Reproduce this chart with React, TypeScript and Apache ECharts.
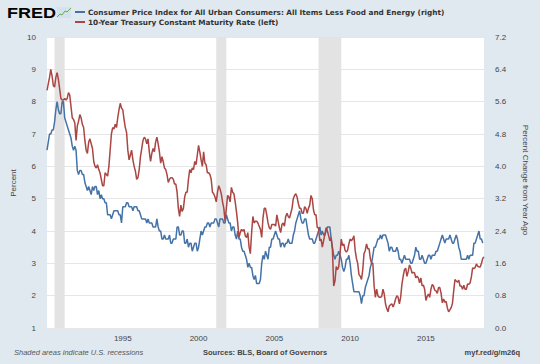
import React, { useEffect, useRef } from "react";
import * as echarts from "echarts";

const startYear = 1990;

// 10-Year Treasury Constant Maturity Rate, monthly, Jan 1990 - Nov 2018 (percent, left axis)
const treasury10y = [
  8.35, 8.55, 8.75, 9.0, 8.8, 8.5, 8.45, 8.75, 8.9, 8.7, 8.4, 8.1,
  8.05, 8.05, 8.1, 8.05, 8.1, 8.28, 8.2, 7.85, 7.5, 7.45, 7.35, 6.8,
  7.25, 7.4, 7.6, 7.5, 7.3, 7.2, 6.8, 6.5, 6.4, 6.75, 6.85, 6.7,
  6.55, 6.15, 6.0, 5.95, 6.05, 5.9, 5.8, 5.6, 5.4, 5.4, 5.8, 5.75,
  5.7, 6.0, 6.5, 7.0, 7.2, 7.15, 7.3, 7.2, 7.5, 7.75, 7.95, 7.8,
  7.75, 7.45, 7.2, 7.05, 6.5, 6.2, 6.35, 6.5, 6.2, 6.0, 5.85, 5.6,
  5.65, 5.9, 6.3, 6.55, 6.8, 6.9, 6.85, 6.7, 6.85, 6.45, 6.15, 6.4,
  6.55, 6.45, 6.75, 6.9, 6.7, 6.45, 6.1, 6.3, 6.15, 5.95, 5.9, 5.75,
  5.5, 5.6, 5.65, 5.65, 5.6, 5.45, 5.45, 5.2, 4.7, 4.45, 4.8, 4.6,
  4.7, 5.05, 5.2, 5.2, 5.6, 5.9, 5.8, 5.95, 5.9, 6.15, 6.05, 6.35,
  6.65, 6.45, 6.2, 6.0, 6.45, 6.1, 6.05, 5.8, 5.8, 5.75, 5.6, 5.2,
  5.15, 5.05, 4.9, 5.2, 5.4, 5.3, 5.15, 4.9, 4.7, 4.3, 4.7, 5.1,
  5.05, 4.9, 5.35, 5.2, 5.15, 4.9, 4.6, 4.25, 3.8, 3.95, 4.05, 4.0,
  4.05, 3.85, 3.8, 3.95, 3.5, 3.3, 3.95, 4.45, 4.25, 4.3, 4.3, 4.25,
  4.15, 4.05, 3.8, 4.4, 4.7, 4.7, 4.5, 4.25, 4.1, 4.05, 4.2, 4.2,
  4.2, 4.15, 4.5, 4.3, 4.1, 3.95, 4.2, 4.25, 4.15, 4.45, 4.55, 4.45,
  4.4, 4.55, 4.7, 5.0, 5.1, 5.15, 5.05, 4.85, 4.7, 4.7, 4.55, 4.55,
  4.75, 4.7, 4.55, 4.7, 4.8, 5.1, 5.0, 4.65, 4.5, 4.5, 4.1, 4.1,
  3.7, 3.75, 3.5, 3.7, 3.9, 4.1, 4.0, 3.85, 3.7, 3.8, 3.4, 2.3,
  2.45, 2.9, 2.8, 2.9, 3.3, 3.75, 3.55, 3.6, 3.4, 3.35, 3.4, 3.6,
  3.75, 3.7, 3.75, 3.85, 3.4, 3.15, 3.0, 2.65, 2.6, 2.5, 2.8, 3.3,
  3.4, 3.6, 3.45, 3.45, 3.15, 3.0, 3.0, 2.3, 1.95, 2.2, 2.0, 1.95,
  1.95, 1.98, 2.2, 2.05, 1.75, 1.6, 1.5, 1.68, 1.72, 1.75, 1.65, 1.75,
  1.9, 2.0, 1.95, 1.75, 1.95, 2.35, 2.6, 2.8, 2.85, 2.6, 2.75, 2.95,
  2.85, 2.7, 2.72, 2.7, 2.55, 2.6, 2.55, 2.4, 2.55, 2.3, 2.33, 2.2,
  1.85, 1.98, 2.05, 1.95, 2.2, 2.35, 2.3, 2.17, 2.15, 2.07, 2.25, 2.25,
  2.08, 1.78, 1.9, 1.8, 1.82, 1.62, 1.5, 1.56, 1.63, 1.76, 2.15, 2.5,
  2.45, 2.42, 2.48, 2.3, 2.3, 2.2, 2.32, 2.2, 2.2, 2.36, 2.35, 2.4,
  2.58, 2.86, 2.84, 2.87, 2.98, 2.91, 2.89, 2.89, 3.0, 3.15, 3.2,
];

// Core CPI, percent change from year ago, monthly, Jan 1990 - Oct 2018 (right axis)
const coreCpiYoY = [
  4.4, 4.6, 4.8, 4.8, 4.9, 4.9, 5.1, 5.4, 5.6, 5.4, 5.3, 5.3,
  5.6, 5.6, 5.2, 5.1, 5.0, 4.9, 4.8, 4.7, 4.5, 4.4, 4.5, 4.4,
  3.9, 3.8, 3.9, 3.9, 3.8, 3.8, 3.6, 3.5, 3.4, 3.5, 3.4, 3.3,
  3.5, 3.4, 3.5, 3.5, 3.3, 3.4, 3.2, 3.3, 3.2, 3.2, 3.1, 3.1,
  2.8, 2.8, 2.8, 2.7, 2.8, 2.9, 2.9, 2.9, 2.9, 2.8, 2.8, 2.6,
  3.0, 3.0, 3.0, 3.1, 3.1, 3.0, 3.0, 3.0, 2.9, 3.0, 3.0, 3.0,
  2.9, 2.9, 2.8, 2.7, 2.7, 2.7, 2.7, 2.6, 2.7, 2.6, 2.6, 2.6,
  2.5, 2.5, 2.5, 2.7, 2.5, 2.4, 2.4, 2.2, 2.2, 2.3, 2.2, 2.2,
  2.2, 2.3, 2.1, 2.1, 2.2, 2.2, 2.2, 2.5, 2.5, 2.3, 2.3, 2.4,
  2.4, 2.1, 2.1, 2.2, 2.0, 2.1, 2.1, 1.9, 2.0, 2.1, 2.1, 1.9,
  2.0, 2.2, 2.4, 2.3, 2.4, 2.5, 2.5, 2.6, 2.6, 2.5, 2.6, 2.6,
  2.6, 2.7, 2.7, 2.6, 2.5, 2.7, 2.7, 2.7, 2.6, 2.6, 2.8, 2.7,
  2.6, 2.6, 2.4, 2.5, 2.5, 2.3, 2.2, 2.4, 2.2, 2.2, 2.0, 1.9,
  1.9, 1.8, 1.7, 1.5, 1.6, 1.5, 1.5, 1.3, 1.2, 1.3, 1.1, 1.1,
  1.1, 1.2, 1.6, 1.8, 1.7, 1.9, 1.8, 1.7, 2.0, 2.0, 2.2, 2.2,
  2.3, 2.4, 2.3, 2.2, 2.2, 2.0, 2.1, 2.1, 2.0, 2.1, 2.1, 2.2,
  2.1, 2.1, 2.1, 2.3, 2.4, 2.6, 2.7, 2.8, 2.9, 2.7, 2.6, 2.6,
  2.7, 2.7, 2.5, 2.3, 2.2, 2.2, 2.2, 2.1, 2.1, 2.2, 2.3, 2.4,
  2.5, 2.3, 2.4, 2.3, 2.3, 2.4, 2.5, 2.5, 2.5, 2.2, 2.0, 1.8,
  1.7, 1.8, 1.8, 1.9, 1.8, 1.7, 1.5, 1.4, 1.5, 1.7, 1.7, 1.8,
  1.6, 1.3, 1.1, 0.9, 0.9, 0.9, 0.9, 0.9, 0.8, 0.6, 0.8, 0.8,
  1.0, 1.1, 1.2, 1.3, 1.5, 1.6, 1.8, 2.0, 2.0, 2.1, 2.2, 2.2,
  2.3, 2.2, 2.3, 2.3, 2.3, 2.2, 2.1, 1.9, 2.0, 2.0, 1.9, 1.9,
  1.9, 2.0, 1.9, 1.7, 1.7, 1.6, 1.7, 1.8, 1.7, 1.7, 1.7, 1.7,
  1.6, 1.6, 1.7, 1.8, 2.0, 1.9, 1.9, 1.7, 1.7, 1.8, 1.7, 1.6,
  1.6, 1.7, 1.8, 1.8, 1.7, 1.8, 1.8, 1.8, 1.9, 1.9, 2.0, 2.1,
  2.2, 2.3, 2.2, 2.1, 2.2, 2.2, 2.2, 2.3, 2.2, 2.1, 2.1, 2.2,
  2.3, 2.2, 2.0, 1.9, 1.7, 1.7, 1.7, 1.7, 1.7, 1.8, 1.7, 1.8,
  1.8, 1.8, 2.1, 2.1, 2.2, 2.3, 2.4, 2.2, 2.2, 2.1,
];

// NBER recessions (decimal years)
const recessions: [number, number][] = [
  [1990.5, 1991.167],
  [2001.167, 2001.833],
  [2007.917, 2009.417],
];

const leftTicks = { min: 1, max: 10, interval: 1 };
const rightTicks = { min: 0, max: 7.2, interval: 0.8 };
const xRange = { min: 1990, max: 2018.833, interval: 5 };

const cpiName =
  "Consumer Price Index for All Urban Consumers: All Items Less Food and Energy (right)";
const tsyName = "10-Year Treasury Constant Maturity Rate (left)";

const toPoints = (arr: number[]) =>
  arr.map((v, i) => [startYear + i / 12, v]);

const FONT = "'Liberation Sans', Arial, sans-serif";
const LEGEND_FONT = "'DejaVu Sans', Verdana, sans-serif";

export default function App() {
  const ref = useRef<HTMLDivElement>(null);
  useEffect(() => {
    if (!ref.current) return;
    const chart = echarts.init(ref.current, null, { renderer: "svg" });
    chart.setOption({
      animation: false,
      backgroundColor: "#e1e9f0",
      grid: {
        left: 47,
        right: 56,
        top: 37,
        bottom: 36,
        containLabel: false,
        outerBoundsMode: "none",
        show: true,
        backgroundColor: "#ffffff",
        borderWidth: 0,
      },
      xAxis: {
        type: "value",
        min: xRange.min,
        max: xRange.max,
        interval: xRange.interval,
        axisLine: { show: false },
        axisTick: { show: false },
        splitLine: { show: false },
        axisLabel: {
          showMinLabel: false,
          showMaxLabel: false,
          margin: 6,
          fontSize: 8,
          color: "#444",
          fontFamily: FONT,
          formatter: (v: number) => String(Math.round(v)),
        },
      },
      yAxis: [
        {
          type: "value",
          min: leftTicks.min,
          max: leftTicks.max,
          interval: leftTicks.interval,
          axisLine: { show: false },
          axisTick: { show: false },
          splitLine: { show: true, lineStyle: { color: "#e6e6e6", width: 1 } },
          axisLabel: { margin: 11, fontSize: 8, color: "#444", fontFamily: FONT },
        },
        {
          type: "value",
          min: rightTicks.min,
          max: rightTicks.max,
          interval: rightTicks.interval,
          position: "right",
          axisLine: { show: false },
          axisTick: { show: false },
          splitLine: { show: false },
          axisLabel: {
            margin: 11,
            fontSize: 8,
            color: "#444",
            fontFamily: FONT,
            formatter: (v: number) => v.toFixed(1),
          },
        },
      ],
      series: [
        {
          name: cpiName,
          type: "line",
          yAxisIndex: 1,
          data: toPoints(coreCpiYoY),
          showSymbol: false,
          lineStyle: { color: "#4572a7", width: 1.5 },
          itemStyle: { color: "#4572a7" },
          markArea: {
            silent: true,
            itemStyle: { color: "#e3e3e3" },
            data: recessions.map(([a, b]) => [{ xAxis: a }, { xAxis: b }]),
          },
          z: 2,
        },
        {
          name: tsyName,
          type: "line",
          yAxisIndex: 0,
          data: toPoints(treasury10y),
          showSymbol: false,
          lineStyle: { color: "#aa4643", width: 1.5 },
          itemStyle: { color: "#aa4643" },
          z: 3,
        },
      ],
      graphic: [
        {
          type: "text",
          x: 7,
          y: 13,
          scaleX: 1.2,
          style: {
            text: "FRED",
            fontSize: 15,
            fontWeight: "bold",
            fill: "#000",
            fontFamily: FONT,
            textVerticalAlign: "middle",
          },
        },
        {
          type: "rect",
          shape: { x: 57, y: 7, width: 14, height: 11 },
          style: { fill: "#d3e3ee" },
        },
        {
          type: "polyline",
          shape: {
            points: [
              [57, 17],
              [60, 14],
              [62, 15],
              [65, 11],
              [67, 12],
              [71, 8],
            ],
          },
          style: { stroke: "#6aa84f", lineWidth: 1, fill: "none" },
        },
        {
          type: "line",
          shape: { x1: 75, y1: 12, x2: 85, y2: 12 },
          style: { stroke: "#4572a7", lineWidth: 2 },
        },
        {
          type: "line",
          shape: { x1: 75, y1: 22, x2: 85, y2: 22 },
          style: { stroke: "#aa4643", lineWidth: 2 },
        },
        {
          type: "text",
          x: 88,
          y: 12,
          style: {
            text: cpiName,
            fontSize: 7.3,
            fontWeight: "bold",
            fill: "#333",
            fontFamily: LEGEND_FONT,
            textVerticalAlign: "middle",
          },
        },
        {
          type: "text",
          x: 88,
          y: 22,
          style: {
            text: tsyName,
            fontSize: 7.3,
            fontWeight: "bold",
            fill: "#333",
            fontFamily: LEGEND_FONT,
            textVerticalAlign: "middle",
          },
        },
        {
          type: "text",
          x: 13,
          y: 183,
          rotation: Math.PI / 2,
          style: {
            text: "Percent",
            fontSize: 8,
            fill: "#444",
            fontFamily: FONT,
            textAlign: "center",
            textVerticalAlign: "middle",
          },
        },
        {
          type: "text",
          x: 525,
          y: 180,
          rotation: -Math.PI / 2,
          style: {
            text: "Percent Change from Year Ago",
            fontSize: 8,
            fill: "#444",
            fontFamily: FONT,
            textAlign: "center",
            textVerticalAlign: "middle",
          },
        },
        {
          type: "text",
          x: 14,
          y: 352,
          style: {
            text: "Shaded areas indicate U.S. recessions",
            fontSize: 7.5,
            fontStyle: "italic",
            fill: "#555",
            fontFamily: FONT,
            textVerticalAlign: "middle",
          },
        },
        {
          type: "text",
          x: 203,
          y: 352,
          style: {
            text: "Sources: BLS, Board of Governors",
            fontSize: 7.5,
            fontWeight: "bold",
            fill: "#444",
            fontFamily: FONT,
            textVerticalAlign: "middle",
          },
        },
        {
          type: "text",
          x: 520,
          y: 352,
          style: {
            text: "myf.red/g/m26q",
            fontSize: 7.5,
            fontWeight: "bold",
            fill: "#444",
            fontFamily: FONT,
            textAlign: "right",
            textVerticalAlign: "middle",
          },
        },
      ],
    });
    return () => chart.dispose();
  }, []);
  return (
    <div
      ref={ref}
      style={{ position: "fixed", left: 0, top: 0, width: 540, height: 364 }}
    />
  );
}
